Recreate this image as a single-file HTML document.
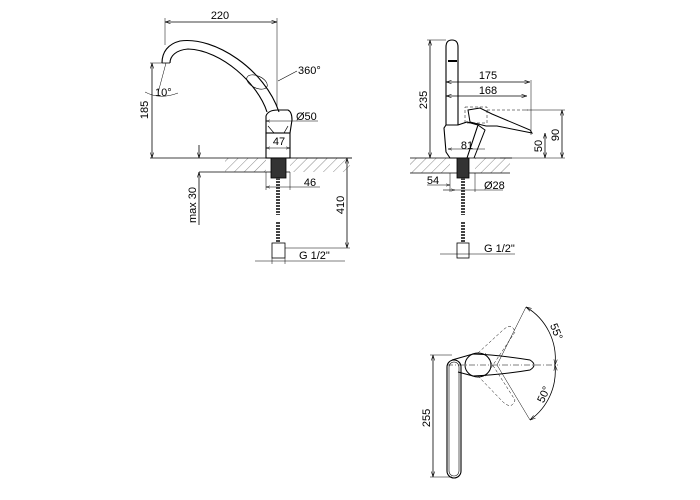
<!DOCTYPE html>
<html><head><meta charset="utf-8"><style>
html,body{margin:0;padding:0;background:#fff;}
svg{display:block}
text{font-family:"Liberation Sans",sans-serif;font-size:11px;fill:#000}
</style></head><body>
<svg width="700" height="500" viewBox="0 0 700 500" xmlns="http://www.w3.org/2000/svg">
<defs>
<pattern id="h" width="7" height="7" patternUnits="userSpaceOnUse" patternTransform="rotate(45)">
<line x1="0" y1="0" x2="0" y2="7" stroke="#555" stroke-width="0.7"/></pattern>
<marker id="a" viewBox="0 0 10 10" refX="10" refY="5" markerWidth="7" markerHeight="7" orient="auto-start-reverse"><path d="M0,2 L10,5 L0,8" fill="none" stroke="#000" stroke-width="1"/></marker>
</defs>
<g fill="none" stroke="#000" stroke-width="0.8">
<rect x="225" y="158" width="125" height="14" fill="url(#h)" stroke="none"/>
<rect x="266" y="158" width="24" height="14" fill="#fff" stroke="none"/>
<line x1="150" y1="158" x2="352" y2="158"/>
<line x1="199" y1="172" x2="290" y2="172"/>
<path d="M162,63 C162,52 168,44 180,41 C215,36 265,70 279,112" stroke-width="1.1"/>
<path d="M170,63 C170,56 176,50 188,49 C222,50 258,84 267,112" stroke-width="1.1"/>
<line x1="162" y1="63" x2="170" y2="63"/>
<ellipse cx="257" cy="82" rx="11" ry="6" transform="rotate(25 257 82)" stroke-width="0.6"/>
<path d="M266,133 L266,116 Q268,110 278,110 L288,110 Q292,112 292,120 L290,133 Z" stroke-width="1.1"/>
<path d="M268,126 L274,133 M288,126 L284,133" stroke-width="0.7"/>
<rect x="266" y="133" width="24" height="25" stroke-width="1.1"/>
<rect x="271" y="158" width="15" height="20" fill="#333" stroke="#000"/>
<line x1="278" y1="178" x2="278" y2="215" stroke="#444" stroke-width="4" stroke-dasharray="2,1"/>
<line x1="278" y1="222" x2="278" y2="243" stroke="#444" stroke-width="4" stroke-dasharray="2,1"/>
<rect x="272" y="243" width="13" height="15"/>
<line x1="165" y1="22" x2="277" y2="22" marker-start="url(#a)" marker-end="url(#a)"/>
<line x1="165" y1="18" x2="165" y2="45" stroke-width="0.5"/>
<line x1="277" y1="18" x2="277" y2="107" stroke-width="0.5"/>
<line x1="150" y1="63" x2="162" y2="63" stroke-width="0.5"/>
<line x1="152" y1="63" x2="152" y2="158" marker-start="url(#a)" marker-end="url(#a)"/>
<line x1="199" y1="145" x2="199" y2="158" marker-end="url(#a)"/>
<line x1="199" y1="172" x2="199" y2="225" marker-start="url(#a)"/>
<line x1="290" y1="158" x2="352" y2="158" stroke-width="0.5"/>
<line x1="347" y1="158" x2="347" y2="248" marker-start="url(#a)" marker-end="url(#a)"/>
<line x1="285" y1="248" x2="350" y2="248" stroke-width="0.5"/>
<line x1="266" y1="121" x2="318" y2="121" marker-start="url(#a)" stroke-width="0.6"/>
<line x1="266" y1="148" x2="290" y2="148" marker-start="url(#a)" marker-end="url(#a)" stroke-width="0.6"/>
<line x1="266" y1="172" x2="266" y2="190" stroke-width="0.5"/>
<line x1="290" y1="172" x2="290" y2="190" stroke-width="0.5"/>
<line x1="266" y1="187" x2="320" y2="187" marker-start="url(#a)" stroke-width="0.6"/>
<line x1="272" y1="258" x2="272" y2="264" stroke-width="0.5"/>
<line x1="285" y1="258" x2="285" y2="264" stroke-width="0.5"/>
<line x1="255" y1="261" x2="345" y2="261" stroke-width="0.6"/>
<line x1="278" y1="81" x2="297" y2="71" stroke-width="0.6"/>
<line x1="166" y1="63" x2="158" y2="93" stroke-width="0.5"/>
<path d="M145,92 Q160,100 178,93" stroke-width="0.5"/>
<rect x="410" y="158" width="100" height="15" fill="url(#h)" stroke="none"/>
<rect x="450" y="158" width="25" height="15" fill="#fff" stroke="none"/>
<line x1="410" y1="158" x2="512" y2="158"/>
<line x1="410" y1="173" x2="510" y2="173"/>
<path d="M446,125 L446,47 Q446,40 452,40 Q458,40 458,47 L458,125" stroke-width="1.1"/>
<line x1="448" y1="61" x2="457" y2="61" stroke-width="2"/>
<path d="M446,125 L444,128 L446,152 L450,158 L467,158 L478,125 L467,122 L458,125 Z" stroke-width="1.1"/>
<path d="M478,125 L485,130 L474,158" stroke-width="1"/>
<path d="M468,110 L480,108 L492,114 L530,130 L532,133 L497,126 L486,126 L470,122 Z" stroke-width="1"/>
<rect x="465" y="107" width="22" height="16" stroke-width="0.5" stroke-dasharray="3,2"/>
<line x1="487" y1="110" x2="528" y2="110" stroke-width="0.5" stroke-dasharray="3,2"/>
<rect x="457" y="158" width="12" height="20" fill="#333"/>
<line x1="463" y1="178" x2="463" y2="215" stroke="#444" stroke-width="4" stroke-dasharray="2,1"/>
<line x1="463" y1="222" x2="463" y2="243" stroke="#444" stroke-width="4" stroke-dasharray="2,1"/>
<rect x="457" y="243" width="12" height="15"/>
<line x1="430" y1="40" x2="430" y2="158" marker-start="url(#a)" marker-end="url(#a)"/>
<line x1="427" y1="40" x2="446" y2="40" stroke-width="0.5"/>
<line x1="446" y1="82" x2="530" y2="82" marker-start="url(#a)" marker-end="url(#a)"/>
<line x1="446" y1="96" x2="527" y2="96" marker-start="url(#a)" marker-end="url(#a)"/>
<line x1="531" y1="80" x2="531" y2="135" stroke-width="0.5"/>
<line x1="525" y1="110" x2="565" y2="110" stroke-width="0.5"/>
<line x1="562" y1="110" x2="562" y2="158" marker-start="url(#a)" marker-end="url(#a)"/>
<line x1="545" y1="133" x2="545" y2="158" marker-start="url(#a)" marker-end="url(#a)"/>
<line x1="500" y1="158" x2="565" y2="158" stroke-width="0.5"/>
<line x1="448" y1="149" x2="485" y2="149" marker-start="url(#a)" stroke-width="0.6"/>
<line x1="450" y1="173" x2="450" y2="192" stroke-width="0.5"/>
<line x1="475" y1="173" x2="475" y2="192" stroke-width="0.5"/>
<line x1="427" y1="185" x2="450" y2="185" marker-end="url(#a)" stroke-width="0.6"/>
<line x1="455" y1="190" x2="503" y2="190" stroke-width="0.6"/>
<line x1="443" y1="190" x2="455" y2="190" marker-end="url(#a)" stroke-width="0.6"/>
<line x1="440" y1="254" x2="515" y2="254" stroke-width="0.6"/>
<rect x="447" y="360" width="14" height="118" rx="7" stroke-width="1.1"/>
<rect x="449" y="362" width="10" height="114" rx="5" stroke-width="0.6"/>
<path d="M452,360 L473,354 Q500,355 530,360 Q538,365 530,370 Q500,375 473,376 L458,372" stroke-width="1"/>
<ellipse cx="478" cy="365" rx="13" ry="12" stroke-width="1"/>
<path d="M478,353 L503,330 Q512,322 515,332 L485,377" stroke-width="0.5" stroke-dasharray="3,2"/>
<path d="M478,376 L503,402 Q512,410 515,400 L485,353" stroke-width="0.5" stroke-dasharray="3,2"/>
<line x1="447" y1="365" x2="558" y2="365" stroke-width="0.6" stroke-dasharray="6,2,1,2"/>
<line x1="497" y1="365" x2="526" y2="307" stroke-width="0.5"/>
<line x1="497" y1="365" x2="530" y2="420" stroke-width="0.5"/>
<path d="M526,307 A60,60 0 0 1 555,365" marker-start="url(#a)" marker-end="url(#a)"/>
<path d="M555,365 A60,60 0 0 1 530,420" marker-start="url(#a)" marker-end="url(#a)"/>
<line x1="433" y1="355" x2="433" y2="477" marker-start="url(#a)" marker-end="url(#a)"/>
<line x1="430" y1="355" x2="452" y2="355" stroke-width="0.5"/>
<line x1="430" y1="477" x2="452" y2="477" stroke-width="0.5"/>
</g>
<text x="220" y="19" text-anchor="middle">220</text>
<text x="298" y="74">360°</text>
<text x="155" y="96">10°</text>
<text x="296" y="120">Ø50</text>
<text x="279" y="145" text-anchor="middle">47</text>
<text x="310" y="186" text-anchor="middle">46</text>
<text x="299" y="259">G 1/2"</text>
<text transform="translate(148,110) rotate(-90)" text-anchor="middle">185</text>
<text transform="translate(196,205) rotate(-90)" text-anchor="middle">max 30</text>
<text transform="translate(344,205) rotate(-90)" text-anchor="middle">410</text>
<text x="488" y="79" text-anchor="middle">175</text>
<text x="488" y="94" text-anchor="middle">168</text>
<text x="467" y="149" text-anchor="middle">81</text>
<text x="433" y="184" text-anchor="middle">54</text>
<text x="484" y="189">Ø28</text>
<text x="484" y="252">G 1/2"</text>
<text transform="translate(427,100) rotate(-90)" text-anchor="middle">235</text>
<text transform="translate(559,135) rotate(-90)" text-anchor="middle">90</text>
<text transform="translate(542,146) rotate(-90)" text-anchor="middle">50</text>
<text transform="translate(430,418) rotate(-90)" text-anchor="middle">255</text>
<text transform="translate(553,333) rotate(68)" text-anchor="middle">55°</text>
<text transform="translate(547,396) rotate(-65)" text-anchor="middle">50°</text>
</svg>
</body></html>
